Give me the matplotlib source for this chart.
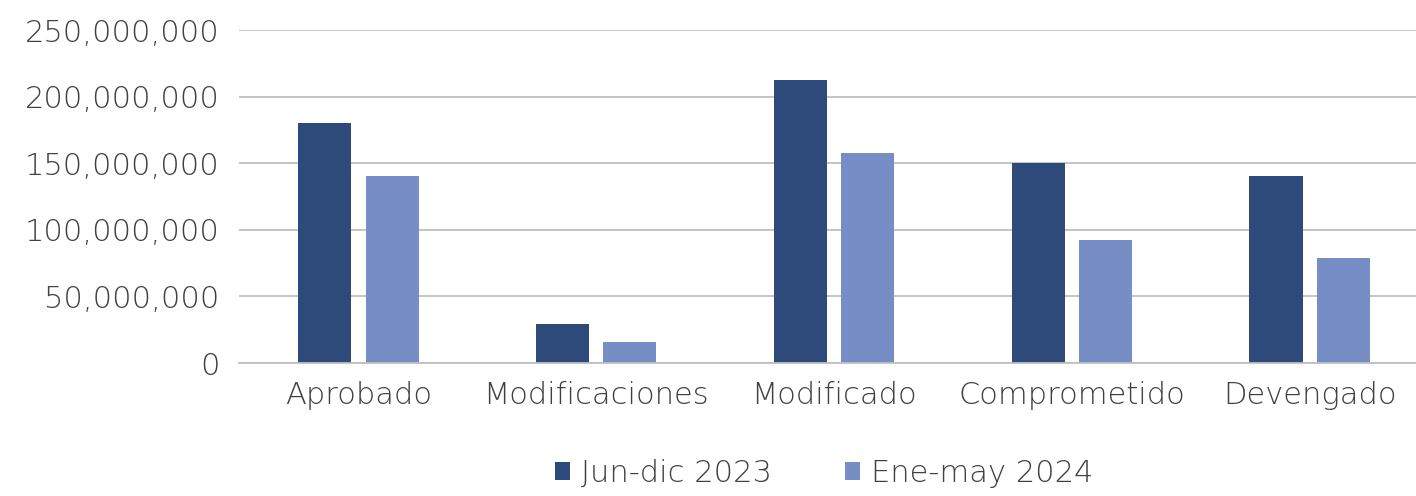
import numpy as np
import matplotlib.pyplot as plt
from matplotlib.ticker import FuncFormatter

# Datos
categorias = ["Aprobado", "Modificaciones", "Modificado", "Comprometido", "Devengado"]
jun_dic_2023 = [180400000, 29000000, 212700000, 150000000, 140400000]
ene_may_2024 = [140200000, 16000000, 157700000, 92700000, 79200000]
series_nombres = ["Jun-dic 2023", "Ene-may 2024"]

plt.rcParams["font.family"] = ["DejaVu Sans"]
plt.rcParams["font.weight"] = "light"

fig = plt.figure(figsize=(14.16, 4.96), dpi=100)
ax = fig.add_axes([0.169, 0.268, 0.840, 0.6715])

x = np.arange(len(categorias))
ancho = 0.223
ax.bar(x - 0.142, jun_dic_2023, ancho, color="#2E4A7A", label=series_nombres[0])
ax.bar(x + 0.142, ene_may_2024, ancho, color="#778DC5", label=series_nombres[1])

ax.set_xlim(-0.5, len(categorias) - 0.5)
ax.set_ylim(0, 250000000)
ax.set_yticks(np.arange(0, 250000001, 50000000))
ax.yaxis.set_major_formatter(FuncFormatter(lambda v, p: f"{int(v):,}"))
ax.set_xticks(x)
ax.set_xticklabels(categorias)

ax.grid(axis="y", color="#BFBFBF", linewidth=1.3)
ax.set_axisbelow(True)
for s in ["top", "right", "left"]:
    ax.spines[s].set_visible(False)
ax.spines["bottom"].set_color("#BFBFBF")
ax.spines["bottom"].set_linewidth(1.3)
ax.tick_params(axis="both", length=0, labelsize=22, labelcolor="#404040")
ax.tick_params(axis="y", pad=14)
ax.tick_params(axis="x", pad=13)

fig.legend(loc="center", bbox_to_anchor=(0.582, 0.046), ncol=2, frameon=False,
           fontsize=22, labelcolor="#404040", handlelength=0.5, handleheight=0.5,
           handletextpad=0.35, columnspacing=2.4)

fig.savefig("out.png", dpi=100)
